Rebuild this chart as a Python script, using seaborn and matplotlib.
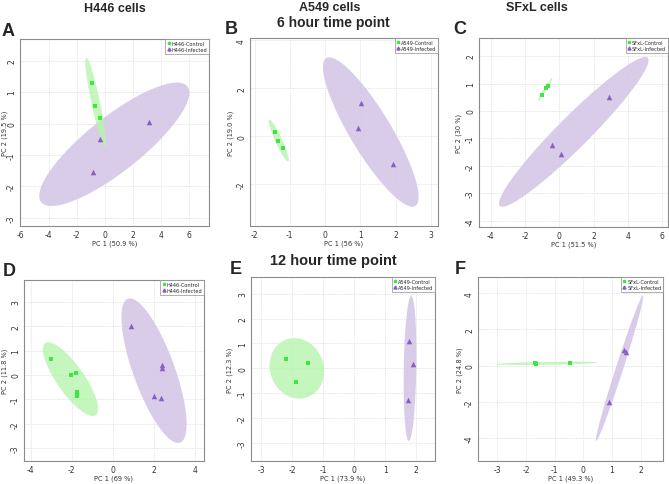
import numpy as np
import matplotlib
matplotlib.use("Agg")
import matplotlib.pyplot as plt
from matplotlib.lines import Line2D
import seaborn as sns

# PCA scores (PC1, PC2) per group
h446_6h_ctrl_pc1 = [-0.90, -0.73, -0.33]
h446_6h_ctrl_pc2 = [1.30, 0.55, 0.17]
h446_6h_inf_pc1 = [-0.33, -0.83, 3.17]
h446_6h_inf_pc2 = [-0.50, -1.53, 0.05]

a549_6h_ctrl_pc1 = [-1.41, -1.35, -1.19]
a549_6h_ctrl_pc2 = [0.20, -0.21, -0.50]
a549_6h_inf_pc1 = [1.03, 0.92, 1.93]
a549_6h_inf_pc2 = [1.37, 0.33, -1.16]

sfxl_6h_ctrl_pc1 = [-1.01, -0.80, -0.68]
sfxl_6h_ctrl_pc2 = [0.59, 0.84, 0.91]
sfxl_6h_inf_pc1 = [-0.45, 0.10, 2.87]
sfxl_6h_inf_pc2 = [-1.24, -1.56, 0.51]

h446_12h_ctrl_pc1 = [-3.01, -2.03, -1.77, -1.74, -1.74]
h446_12h_ctrl_pc2 = [0.64, 0.00, 0.07, -0.70, -0.86]
h446_12h_inf_pc1 = [0.89, 2.42, 2.41, 2.03, 2.34]
h446_12h_inf_pc2 = [2.02, 0.40, 0.29, -0.87, -0.96]

a549_12h_ctrl_pc1 = [-2.19, -1.48, -1.88]
a549_12h_ctrl_pc2 = [0.36, 0.20, -0.56]
a549_12h_inf_pc1 = [1.76, 1.90, 1.75]
a549_12h_inf_pc2 = [1.09, 0.17, -1.27]

sfxl_12h_ctrl_pc1 = [-1.69, -1.66, -0.45]
sfxl_12h_ctrl_pc2 = [0.14, 0.09, 0.15]
sfxl_12h_inf_pc1 = [1.42, 1.50, 0.88]
sfxl_12h_inf_pc2 = [0.88, 0.73, -2.03]

pc1_var = ["50.9", "56", "51.5", "69", "73.9", "49.3"]
pc2_var = ["19.5", "19.0", "30", "11.8", "12.3", "24.8"]
cell_lines = ["H446", "A549", "SFxL", "H446", "A549", "SFxL"]

GREEN = "#3ee63e"
GREEN_FILL = "#b6f4ae"
PURPLE = "#8a5fc2"
PURPLE_FILL = "#d3c3e6"

W, H = 669, 485

# panel layout: (left, right, top, bottom) px, xlim, ylim, xticks, yticks, ylabel offset px
panels = [
    dict(box=(20, 209, 40, 227), xlim=(-6.03, 7.4), ylim=(-3.26, 2.69),
         xt=np.arange(-6, 7, 2), yt=np.arange(-3, 3, 1), yoff=15,
         ctrl=(h446_6h_ctrl_pc1, h446_6h_ctrl_pc2), inf=(h446_6h_inf_pc1, h446_6h_inf_pc2)),
    dict(box=(250, 438, 39, 227), xlim=(-2.13, 3.2), ylim=(-3.74, 4.1),
         xt=np.arange(-2, 4, 1), yt=np.arange(-2, 5, 2), yoff=19,
         ctrl=(a549_6h_ctrl_pc1, a549_6h_ctrl_pc2), inf=(a549_6h_inf_pc1, a549_6h_inf_pc2)),
    dict(box=(479, 668, 39, 228), xlim=(-4.68, 6.33), ylim=(-4.23, 2.66),
         xt=np.arange(-4, 7, 2), yt=np.arange(-4, 3, 1), yoff=20,
         ctrl=(sfxl_6h_ctrl_pc1, sfxl_6h_ctrl_pc2), inf=(sfxl_6h_inf_pc1, sfxl_6h_inf_pc2)),
    dict(box=(24, 204, 281, 462), xlim=(-4.33, 4.46), ylim=(-3.52, 3.89),
         xt=np.arange(-4, 5, 2), yt=np.arange(-3, 4, 1), yoff=19,
         ctrl=(h446_12h_ctrl_pc1, h446_12h_ctrl_pc2), inf=(h446_12h_inf_pc1, h446_12h_inf_pc2)),
    dict(box=(251, 435, 278, 462), xlim=(-3.33, 2.61), ylim=(-3.72, 3.67),
         xt=np.arange(-3, 3, 1), yt=np.arange(-3, 4, 1), yoff=21,
         ctrl=(a549_12h_ctrl_pc1, a549_12h_ctrl_pc2), inf=(a549_12h_inf_pc1, a549_12h_inf_pc2)),
    dict(box=(478, 663, 278, 462), xlim=(-3.67, 2.78), ylim=(-5.26, 4.89),
         xt=np.arange(-3, 3, 1), yt=np.arange(-4, 5, 2), yoff=18,
         ctrl=(sfxl_12h_ctrl_pc1, sfxl_12h_ctrl_pc2), inf=(sfxl_12h_inf_pc1, sfxl_12h_inf_pc2)),
]


def conf_ellipse(x, y, level=0.95, n=200):
    """95% confidence ellipse from the sample covariance (chi-square, 2 df)."""
    pts = np.column_stack([x, y])
    mu = pts.mean(axis=0)
    vals, vecs = np.linalg.eigh(np.cov(pts.T))
    r = np.sqrt(-2 * np.log(1 - level))
    t = np.linspace(0, 2 * np.pi, n)
    circ = np.vstack([np.cos(t), np.sin(t)]) * np.sqrt(np.clip(vals, 0, None))[:, None]
    e = mu[:, None] + r * (vecs @ circ)
    return e[0], e[1]


sns.set_style("white")
plt.rcParams["font.family"] = ["DejaVu Sans"]
plt.rcParams["axes.unicode_minus"] = False

fig = plt.figure(figsize=(W / 100, H / 100), dpi=100)

for i, p in enumerate(panels):
    l, r, t, b = p["box"]
    ax = fig.add_axes([l / W, 1 - b / H, (r - l) / W, (b - t) / H])
    ax.set_xlim(*p["xlim"])
    ax.set_ylim(*p["ylim"])
    ax.set_xticks(p["xt"])
    ax.set_yticks(p["yt"])
    ax.grid(True, color="#e6e6e6", linewidth=0.6, linestyle=(0, (2, 1)))
    ax.set_axisbelow(True)

    ex, ey = conf_ellipse(*p["inf"])
    ax.fill(ex, ey, color=PURPLE_FILL, alpha=0.85, lw=0, zorder=1)
    ex, ey = conf_ellipse(*p["ctrl"])
    ax.fill(ex, ey, color=GREEN_FILL, alpha=0.8, lw=0.3, ec=GREEN_FILL, zorder=1)

    sns.scatterplot(x=p["ctrl"][0], y=p["ctrl"][1], ax=ax, marker="s", color=GREEN,
                    s=12, linewidth=0, zorder=3, legend=False)
    sns.scatterplot(x=p["inf"][0], y=p["inf"][1], ax=ax, marker="^", color=PURPLE,
                    s=16, linewidth=0, zorder=3, legend=False)

    for sp in ax.spines.values():
        sp.set_color("#8c8c8c")
        sp.set_linewidth(0.8)
    ax.tick_params(axis="both", length=1.8, width=0.6, color="#8c8c8c",
                   labelsize=5.5, labelcolor="#333333", pad=1)
    for lab in ax.get_yticklabels():
        lab.set_rotation(90)
        lab.set_va("center")
    ax.set_xlabel(f"PC 1 ({pc1_var[i]} %)", fontsize=4.8, color="#333333")
    ax.set_ylabel(f"PC 2 ({pc2_var[i]} %)", fontsize=4.8, color="#333333")
    ax.xaxis.set_label_coords(0.5, -17 / (b - t))
    ax.xaxis.label.set_va("center")
    ax.yaxis.set_label_coords(-p["yoff"] / (r - l), 0.5)
    ax.yaxis.label.set_va("center")

    handles = [
        Line2D([], [], marker="s", color=GREEN, linestyle="", markersize=2),
        Line2D([], [], marker="^", color=PURPLE, linestyle="", markersize=2.2),
    ]
    names = [f"{cell_lines[i]}-Control", f"{cell_lines[i]}-Infected"]
    leg = ax.legend(handles, names, loc="upper right", fontsize=3.6, frameon=True,
                    fancybox=False, borderaxespad=0, handlelength=0.6,
                    handletextpad=0.3, borderpad=0.35, labelspacing=0.25)
    leg.get_frame().set_edgecolor("#8c8c8c")
    leg.get_frame().set_linewidth(0.6)


def ftext(x, y, s, size, **kw):
    fig.text(x / W, 1 - y / H, s, fontsize=size, fontweight="bold",
             family=["Liberation Sans", "DejaVu Sans"], ha="center", va="center", **kw)


ftext(115, 9, "H446 cells", 9)
ftext(330, 8, "A549 cells", 9)
ftext(333, 23, "6 hour time point", 10)
ftext(537, 8, "SFxL cells", 9)
ftext(333, 261, "12 hour time point", 10.5)
for letter, (lx, ly) in zip("ABCDEF", [(8, 31), (231, 29), (460, 29), (9, 271), (236, 269), (460, 270)]):
    ftext(lx, ly, letter, 13)

fig.savefig("out.png", dpi=100)
